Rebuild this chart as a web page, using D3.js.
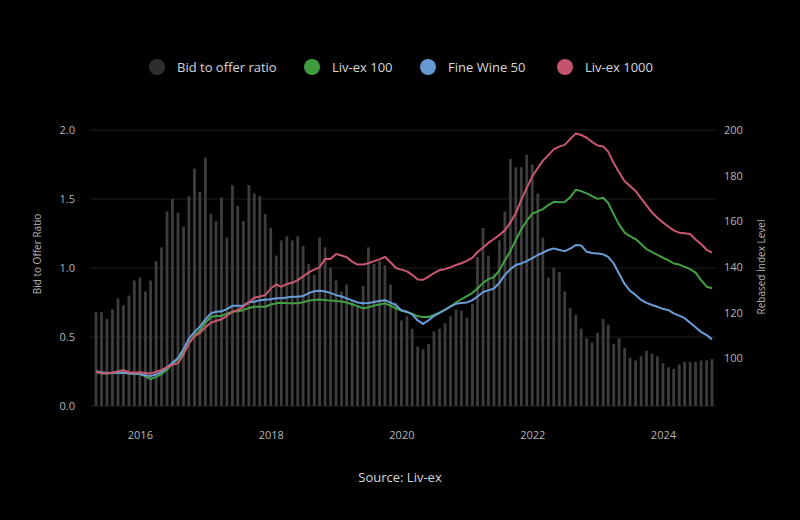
<!DOCTYPE html>
<html lang="en">
<head>
  <meta charset="UTF-8" />
  <title>Bid to offer ratio vs Liv-ex indices</title>
  <script src="https://d3js.org/d3.v7.min.js"></script>
  <style>
    html, body { margin: 0; padding: 0; background: #000; }
    svg { display: block; background: #000; }
    text { font-family: 'Open Sans', 'DejaVu Sans', sans-serif; }
  </style>
</head>
<body>
  <svg id="chart" width="800" height="520"></svg>

  <script>
    // monthly data, May 2015 - Oct 2024
    const firstMonth = new Date(2015, 4, 1);
    const lastMonth = new Date(2024, 9, 1);
    const months = d3.timeMonth.range(firstMonth, d3.timeMonth.offset(lastMonth, 1));

    const bidOffer = [
      0.68, 0.68, 0.63, 0.70, 0.78, 0.73, 0.80, 0.91, 0.93, 0.83, 0.91, 1.05,
      1.15, 1.41, 1.50, 1.40, 1.30, 1.52, 1.72, 1.55, 1.80, 1.39, 1.34, 1.51,
      1.22, 1.60, 1.45, 1.34, 1.60, 1.54, 1.52, 1.39, 1.29, 1.09, 1.20, 1.23,
      1.20, 1.23, 1.16, 1.03, 0.95, 1.22, 1.15, 1.00, 0.91, 0.83, 0.88, 0.77,
      0.73, 0.87, 1.15, 1.03, 1.05, 1.02, 0.88, 0.75, 0.62, 0.65, 0.56, 0.43,
      0.41, 0.45, 0.54, 0.56, 0.60, 0.65, 0.70, 0.69, 0.64, 0.74, 1.08, 1.29,
      1.09, 0.96, 1.20, 1.41, 1.79, 1.73, 1.73, 1.82, 1.75, 1.54, 1.22, 0.93,
      1.00, 0.97, 0.83, 0.71, 0.66, 0.56, 0.49, 0.46, 0.53, 0.63, 0.59, 0.45,
      0.49, 0.42, 0.35, 0.33, 0.36, 0.40, 0.38, 0.36, 0.31, 0.28, 0.27, 0.30,
      0.32, 0.32, 0.32, 0.33, 0.33, 0.34
    ];

    const livex100 = [
      93.8, 93.3, 93.2, 93.5, 93.6, 93.6, 93.2, 93.0, 93.0, 92.0, 90.8, 91.8,
      93.0, 95.0, 97.5, 99.6, 102.5, 106.5, 110.0, 112.0, 115.5, 118.0, 118.5, 118.5,
      119.5, 120.3, 120.5, 121.0, 122.0, 122.5, 122.5, 122.5, 123.5, 124.0, 124.3, 124.0,
      124.0, 124.0, 124.5, 125.2, 125.5, 125.7, 125.5, 125.2, 125.0, 124.8, 124.4, 123.6,
      122.8, 121.8, 122.3, 123.0, 123.5, 124.0, 123.0, 121.8, 120.8, 120.2, 119.5, 118.3,
      118.0, 118.0, 118.9, 119.9, 121.2, 122.6, 124.4, 125.8, 127.2, 128.6, 130.5, 133.0,
      134.6, 135.5, 138.5, 142.8, 147.0, 151.8, 156.5, 160.2, 163.3, 164.3, 165.3, 167.1,
      168.5, 168.3, 168.4, 170.5, 173.8, 173.2, 172.2, 171.0, 169.8, 170.3, 168.0, 163.0,
      158.5, 155.0, 153.5, 152.2, 150.0, 147.8, 146.5, 145.3, 144.0, 142.8, 141.5, 141.0,
      140.0, 139.0, 137.5, 134.2, 131.3, 130.6
    ];

    const fineWine50 = [
      94.2, 93.8, 93.5, 93.6, 93.7, 93.6, 93.3, 93.2, 93.0, 92.5, 92.1, 92.8,
      94.0, 96.0, 98.0, 100.0, 104.0, 108.5, 111.5, 113.7, 117.0, 119.6, 120.3, 120.5,
      121.5, 122.9, 123.0, 123.0, 124.5, 124.7, 125.4, 125.6, 125.8, 126.2, 126.2, 126.6,
      126.9, 126.9, 127.2, 128.5, 129.3, 129.5, 129.2, 128.6, 127.6, 127.0, 126.2, 125.3,
      124.4, 124.0, 124.2, 124.6, 125.0, 125.4, 124.3, 123.2, 121.0, 120.3, 119.2, 116.5,
      115.0, 116.6, 118.5, 119.8, 121.2, 122.6, 123.8, 124.2, 124.4, 125.4, 127.0, 129.0,
      129.7, 130.5, 133.0, 136.5, 139.0, 140.8, 141.5, 142.5, 143.8, 145.2, 146.2, 147.4,
      148.1, 147.4, 146.9, 148.0, 149.6, 149.4, 146.6, 146.1, 145.9, 145.5, 144.4, 141.5,
      137.0, 132.5, 129.5, 127.7, 125.5, 124.2, 123.3, 122.5, 121.6, 121.0, 119.6, 118.6,
      117.5, 115.5, 113.5, 111.5, 110.1, 108.2
    ];

    const livex1000 = [
      94.0, 93.5, 93.3, 93.6, 94.2, 94.7, 93.8, 93.6, 93.8, 93.5, 93.2, 94.0,
      94.8, 96.0, 97.0, 97.8, 101.5, 106.5, 109.5, 111.0, 113.5, 115.5, 116.3, 117.0,
      118.5, 120.3, 121.0, 122.5, 124.5, 126.5, 127.0, 127.6, 130.5, 132.3, 131.2, 132.5,
      133.0, 134.2, 135.8, 137.6, 138.8, 139.8, 143.5, 143.5, 145.6, 145.0, 144.2, 142.3,
      141.0, 141.0, 141.6, 142.5, 143.3, 144.4, 142.0, 139.5, 138.8, 138.0, 136.5, 134.5,
      134.3, 135.7, 137.3, 138.6, 139.0, 139.8, 140.8, 141.6, 142.6, 144.0, 146.5, 148.5,
      150.5, 152.2, 154.0, 156.0, 159.5, 163.5, 169.5, 174.5, 179.7, 183.3, 186.5, 189.0,
      191.5, 192.7, 193.5, 196.0, 198.5, 197.8, 196.6, 194.8, 193.2, 192.8, 190.5, 185.5,
      181.5, 177.5, 175.5, 173.3, 170.0, 167.0, 163.8, 161.5, 159.5, 157.6, 156.0, 155.0,
      154.7, 154.4, 152.0, 150.0, 147.5, 146.2
    ];

    const leftTicks = [0, 0.5, 1.0, 1.5, 2.0];
    const rightTicks = [100, 120, 140, 160, 180, 200];
    const yearTicks = [2016, 2018, 2020, 2022, 2024];

    const legendItems = [
      { name: "Bid to offer ratio", color: "#2e2e2e" },
      { name: "Liv-ex 100", color: "#3f9b3f" },
      { name: "Fine Wine 50", color: "#6698d2" },
      { name: "Liv-ex 1000", color: "#c4536d" }
    ];

    const lineSeries = [
      { values: livex100, color: "#43a043" },
      { values: fineWine50, color: "#6a9ed8" },
      { values: livex1000, color: "#c9586f" }
    ];

    const svg = d3.select("#chart");

    const x = d3.scaleTime().domain([firstMonth, lastMonth]).range([96, 712]);
    const yL = d3.scaleLinear().domain([0, 2]).range([406, 130]);
    const yR = d3.scaleLinear().domain([79, 200]).range([406, 130]);

    // grid lines
    svg.append("g")
      .selectAll("line")
      .data(leftTicks)
      .join("line")
      .attr("x1", 90).attr("x2", 716)
      .attr("y1", d => yL(d)).attr("y2", d => yL(d))
      .attr("stroke", "#1e1e1e")
      .attr("stroke-width", 1);

    // bars
    const barW = 2.8;
    svg.append("g")
      .selectAll("rect")
      .data(bidOffer)
      .join("rect")
      .attr("x", (d, i) => x(months[i]) - barW / 2)
      .attr("y", d => yL(d))
      .attr("width", barW)
      .attr("height", d => yL(0) - yL(d))
      .attr("fill", "#3d3d3d");

    // index lines
    lineSeries.forEach(s => {
      const line = d3.line()
        .x((d, i) => x(months[i]))
        .y(d => yR(d));
      svg.append("path")
        .datum(s.values)
        .attr("d", line)
        .attr("fill", "none")
        .attr("stroke", s.color)
        .attr("stroke-width", 2)
        .attr("stroke-linejoin", "round");
    });

    // axes
    const styleAxis = g => {
      g.select(".domain").remove();
      g.selectAll(".tick line").remove();
      g.selectAll(".tick text")
        .attr("fill", "#b5b5b5")
        .style("font-size", "11px")
        .style("font-family", "'Open Sans', sans-serif");
    };

    svg.append("g")
      .attr("transform", "translate(75,0)")
      .call(d3.axisLeft(yL).tickValues(leftTicks).tickFormat(d3.format(".1f")).tickSize(0).tickPadding(0))
      .call(styleAxis);

    svg.append("g")
      .attr("transform", "translate(724,0)")
      .call(d3.axisRight(yR).tickValues(rightTicks).tickSize(0).tickPadding(0))
      .call(styleAxis);

    svg.append("g")
      .attr("transform", "translate(0,431)")
      .call(d3.axisBottom(x)
        .tickValues(yearTicks.map(y => new Date(y, 0, 1)))
        .tickFormat(d3.timeFormat("%Y"))
        .tickSize(0).tickPadding(0))
      .call(styleAxis);

    // axis titles
    svg.append("text")
      .attr("transform", "translate(41,254) rotate(-90)")
      .attr("text-anchor", "middle")
      .attr("fill", "#b5b5b5")
      .style("font-size", "10px")
      .text("Bid to Offer Ratio");

    svg.append("text")
      .attr("transform", "translate(765,267) rotate(-90)")
      .attr("text-anchor", "middle")
      .attr("fill", "#b5b5b5")
      .style("font-size", "10px")
      .text("Rebased Index Level");

    // legend
    const legendX = [157, 312, 428, 565];
    const legend = svg.append("g");
    legendItems.forEach((item, i) => {
      legend.append("circle")
        .attr("cx", legendX[i]).attr("cy", 67).attr("r", 8)
        .attr("fill", item.color);
      legend.append("text")
        .attr("x", legendX[i] + 20).attr("y", 71.5)
        .attr("fill", "#d8d8d8")
        .style("font-size", "13px")
        .text(item.name);
    });

    // source
    svg.append("text")
      .attr("x", 400).attr("y", 482)
      .attr("text-anchor", "middle")
      .attr("fill", "#d8d8d8")
      .style("font-size", "13px")
      .text("Source: Liv-ex");
  </script>
</body>
</html>
